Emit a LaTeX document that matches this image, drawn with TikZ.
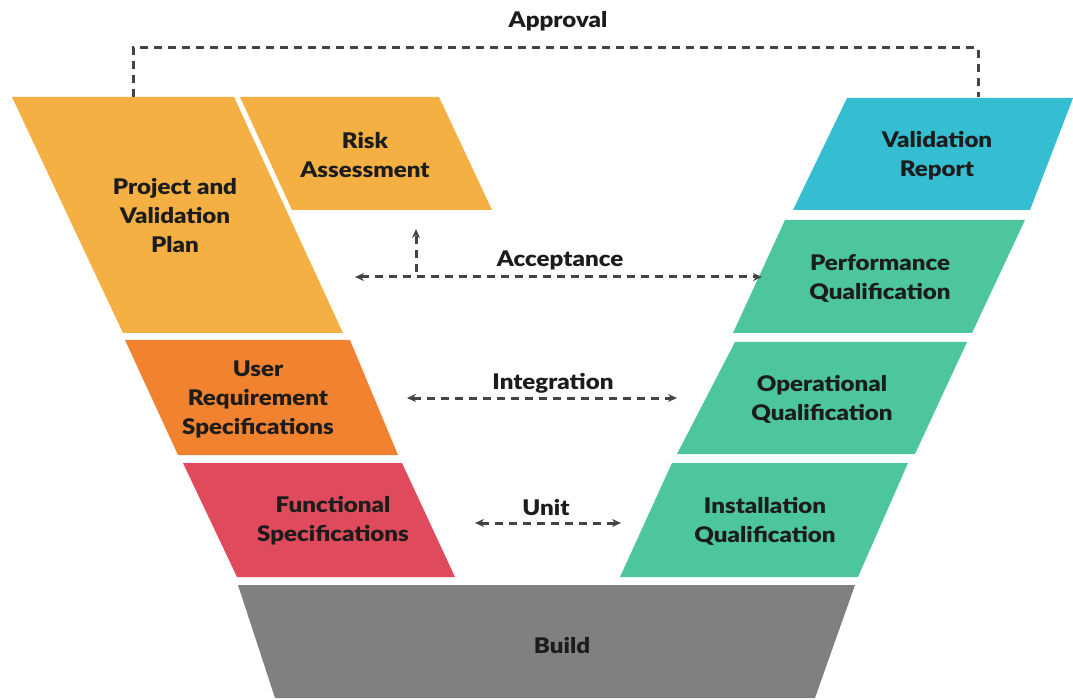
\documentclass[tikz,border=0pt]{standalone}
\usepackage{fontspec}
\setmainfont{Lato}[BoldFont={Lato Black},BoldFeatures={FakeStretch=1.12}]
\usetikzlibrary{arrows.meta}
\definecolor{plancol}{HTML}{F5B043}
\definecolor{urscol}{HTML}{F18230}
\definecolor{fscol}{HTML}{DF4B5C}
\definecolor{repcol}{HTML}{35BDD1}
\definecolor{qualcol}{HTML}{4DC59F}
\definecolor{buildcol}{HTML}{808080}
\definecolor{inkcol}{HTML}{1C1C1C}
\definecolor{linkcol}{HTML}{444444}
\begin{document}
\begin{tikzpicture}[x=1pt,y=-1pt,
  lbl/.style={align=center,text=inkcol,font=\bfseries\fontsize{21.5}{29}\selectfont},
  link/.style={draw=linkcol,line width=3pt,dash pattern=on 8pt off 6pt},
  both/.style={link,{Stealth[length=9pt,width=8pt]}-{Stealth[length=9pt,width=8pt]}},
  one/.style={link,-{Stealth[length=9pt,width=8pt]}}]
\useasboundingbox (0,0) rectangle (1073,700);

% left arm of the V
\fill[plancol] (12,97) -- (234,97) -- (343,333) -- (123,333) -- cycle;
\fill[plancol] (240,97) -- (439,97) -- (492,210) -- (292,210) -- cycle;
\fill[urscol] (125,340) -- (350,340) -- (398,455) -- (178,455) -- cycle;
\fill[fscol] (183,463) -- (402,463) -- (455,577) -- (237,577) -- cycle;
% base
\fill[buildcol] (238,585) -- (855,585) -- (815,698) -- (275,698) -- cycle;
% right arm of the V
\fill[repcol] (847,98) -- (1073,98) -- (1030,210) -- (793,210) -- cycle;
\fill[qualcol] (785,220) -- (1025,220) -- (972,333) -- (733,333) -- cycle;
\fill[qualcol] (735,342) -- (967,342) -- (915,454) -- (677,454) -- cycle;
\fill[qualcol] (672,463) -- (908,463) -- (858,577) -- (620,577) -- cycle;

% block labels
\node[lbl] (plan) at (175,216) {Project and\\Validation\\Plan};
\node[lbl] (risk) at (365,155) {Risk\\Assessment};
\node[lbl] (urs) at (258,399) {User\\Requirement\\Specifications};
\node[lbl] (fs) at (333,521) {Functional\\Specifications};
\node[lbl] (build) at (562,646) {Build};
\node[lbl] (report) at (937,156) {Validation\\Report};
\node[lbl] (pq) at (880,278) {Performance\\Qualification};
\node[lbl] (oq) at (822,399) {Operational\\Qualification};
\node[lbl] (iq) at (765,521) {Installation\\Qualification};

% link labels
\node[lbl] (approval) at (558,21) {Approval};
\node[lbl] (accept) at (560,260) {Acceptance};
\node[lbl] (integ) at (553,383) {Integration};
\node[lbl] (unit) at (546,508) {Unit};

% link end points
\coordinate (apL) at (133,97);
\coordinate (apR) at (978,97);
\coordinate (acL) at (355,277);
\coordinate (acR) at (762,277);
\coordinate (acU) at (416,272);
\coordinate (acT) at (416,229);
\coordinate (inL) at (407,398);
\coordinate (inR) at (677,398);
\coordinate (unL) at (475,523);
\coordinate (unR) at (621,523);

% approval bracket
\draw[link] (apL) -- (apL |- 0,48) -- (apR |- 0,48) -- (apR);
% acceptance, integration and unit links
\draw[both] (acL) -- (acR);
\draw[one] (acU) -- (acT);
\draw[both] (inL) -- (inR);
\draw[both] (unL) -- (unR);
\end{tikzpicture}
\end{document}
